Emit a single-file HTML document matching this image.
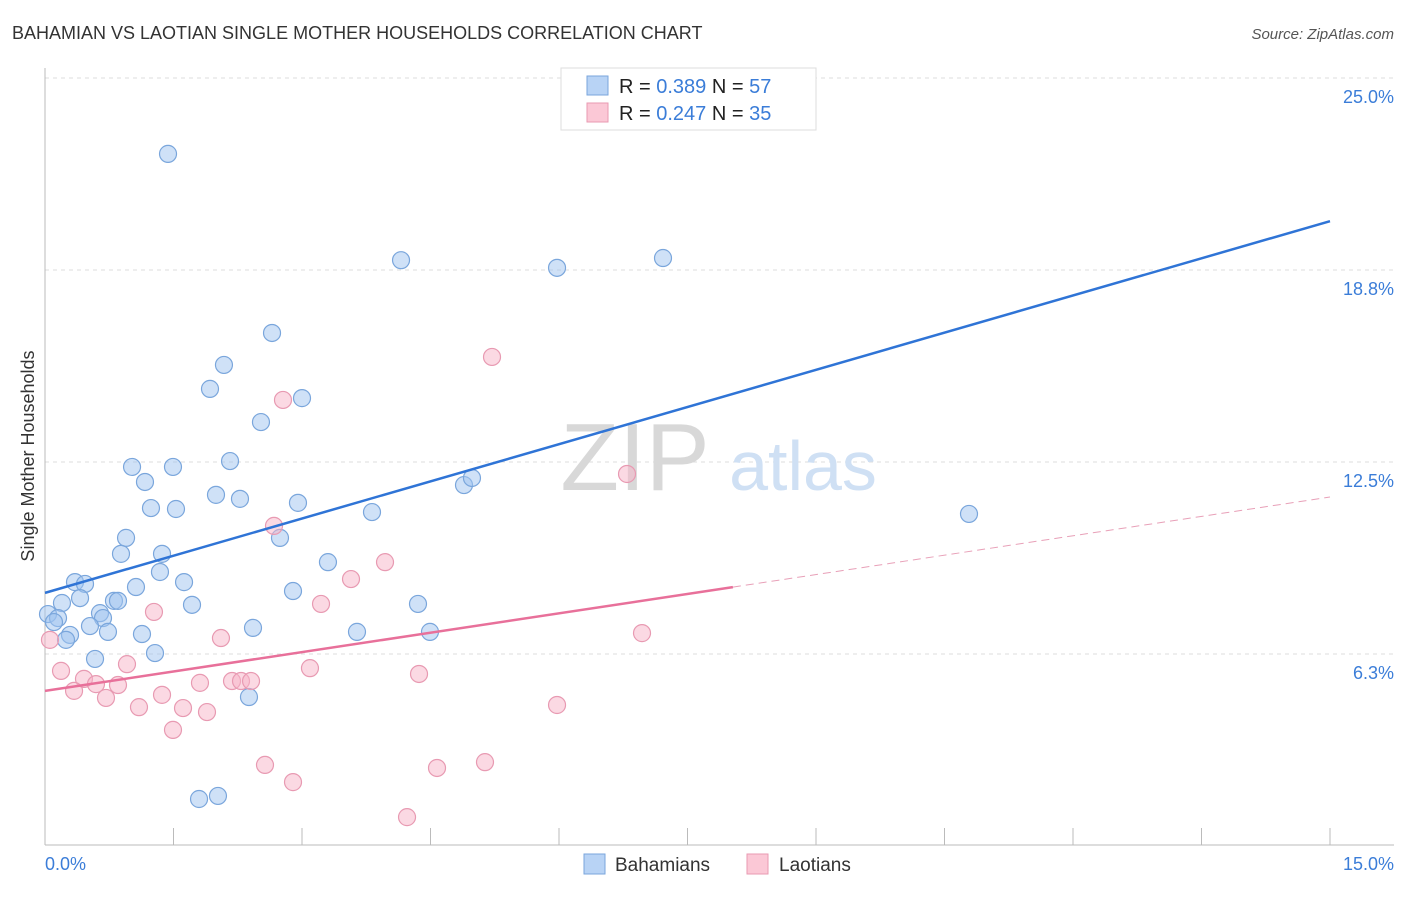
<!DOCTYPE html>
<html><head><meta charset="utf-8"><style>
body{margin:0;background:#fff;font-family:"Liberation Sans",sans-serif;}
svg text{font-family:"Liberation Sans",sans-serif;}
</style></head><body>
<svg id="chart" width="1406" height="892" xmlns="http://www.w3.org/2000/svg">
<text x="12" y="39" font-size="18" fill="#333">BAHAMIAN VS LAOTIAN SINGLE MOTHER HOUSEHOLDS CORRELATION CHART</text>
<text x="1394" y="39" font-size="15" fill="#555" text-anchor="end" font-style="italic">Source: ZipAtlas.com</text>
<g id="grid"></g>
<g>
<text x="635" y="490" font-size="96" font-family="Liberation Serif" fill="#d8d8d8" text-anchor="middle">ZIP</text>
<text x="803" y="490" font-size="70" fill="#cfe0f4" text-anchor="middle">atlas</text>
</g>
<line x1="45" y1="68" x2="45" y2="845" stroke="#bbb"/>
<line x1="45" y1="845" x2="1394" y2="845" stroke="#bbb"/>
<g id="ticks"></g>
<g id="ylabels"></g>
<text x="45" y="870" font-size="18" fill="#3b7dd8">0.0%</text>
<text x="1394" y="870" font-size="18" fill="#3b7dd8" text-anchor="end">15.0%</text>
<text x="34" y="456" font-size="18" fill="#333" text-anchor="middle" transform="rotate(-90 34 456)">Single Mother Households</text>
<g id="pts"></g>
<g id="lines"></g>
<g>
<rect x="561" y="68" width="255" height="62" fill="#fff" stroke="#ddd"/>
<rect x="587" y="76" width="21" height="19" fill="#b8d3f5" stroke="#7aa6dc"/>
<rect x="587" y="103" width="21" height="19" fill="#fbc8d6" stroke="#e89ab2"/>
<text x="619" y="93" font-size="20" fill="#222">R = <tspan fill="#3b7dd8">0.389</tspan>   N = <tspan fill="#3b7dd8">57</tspan></text>
<text x="619" y="120" font-size="20" fill="#222">R = <tspan fill="#3b7dd8">0.247</tspan>   N = <tspan fill="#3b7dd8">35</tspan></text>
</g>
<g>
<rect x="584" y="854" width="21" height="20" fill="#b8d3f5" stroke="#7aa6dc"/>
<text x="615" y="871" font-size="19" fill="#333">Bahamians</text>
<rect x="747" y="854" width="21" height="20" fill="#fbc8d6" stroke="#e89ab2"/>
<text x="779" y="871" font-size="19" fill="#333">Laotians</text>
</g>
</svg>
<script>
const yTicks=[6.3,12.5,18.8,25.0];
const yTickVals=[6.25,12.5,18.75,25];
const xTickVals=[0,1.5,3,4.5,6,7.5,9,10.5,12,13.5,15];
const blueX=[1.436,4.156,5.977,7.214,2.650,2.089,1.926,3.000,2.521,1.016,1.494,2.160,1.167,1.237,1.529,1.996,2.276,2.953,3.817,4.891,4.984,10.786,0.946,2.743,0.887,1.366,3.303,1.342,0.350,0.467,1.623,1.062,2.895,0.409,0.198,0.805,0.852,1.716,4.354,0.035,0.152,0.642,0.677,0.105,0.525,0.735,1.132,2.428,3.642,4.494,0.292,0.245,1.284,0.584,2.381,1.798,2.019];
const blueY=[22.53,19.07,18.82,19.14,16.70,15.66,14.88,14.58,13.80,12.34,12.34,12.53,11.85,11.00,10.97,11.43,11.30,11.17,10.87,11.75,11.98,10.81,10.03,10.03,9.51,9.51,9.24,8.92,8.59,8.53,8.59,8.43,8.30,8.07,7.91,7.98,7.98,7.85,7.88,7.55,7.42,7.58,7.42,7.29,7.16,6.97,6.90,7.10,6.97,6.97,6.87,6.71,6.28,6.09,4.85,1.53,1.63];
const pinkX=[5.218,2.778,6.794,2.673,3.969,3.572,3.222,1.272,6.969,2.054,0.058,0.957,0.187,3.093,4.366,0.455,0.595,0.852,1.809,2.183,2.288,2.405,0.339,1.366,0.712,1.097,1.611,1.891,5.977,1.494,2.568,4.576,5.136,2.895,4.226];
const pinkY=[15.92,14.52,12.11,10.42,9.24,8.69,7.88,7.62,6.93,6.77,6.71,5.92,5.70,5.79,5.60,5.44,5.27,5.24,5.31,5.37,5.37,5.37,5.05,4.92,4.82,4.52,4.49,4.36,4.59,3.78,2.64,2.54,2.73,2.08,0.94];
const blueLine=[8.24,20.34];
const pinkLine=[5.05,11.36];
const pinkSolidEnd=8.03;
const NS='http://www.w3.org/2000/svg';
const sx=v=>45+v/15*1285;
const sy=v=>654-(v-6.25)*30.72;
function mk(tag,attrs,parent){const e=document.createElementNS(NS,tag);for(const k in attrs)e.setAttribute(k,attrs[k]);document.getElementById(parent).appendChild(e);return e;}
yTickVals.forEach((v,i)=>{
 const g=mk('line',{x1:45,x2:1394,y1:sy(v),y2:sy(v),stroke:'#ddd','stroke-dasharray':'4,4'},'grid');
 
 
 const t=mk('text',{x:1394,y:sy(v)+25,'font-size':18,fill:'#3b7dd8','text-anchor':'end'},'ylabels');
 t.textContent=yTicks[i].toFixed(1)+'%';
 
 
});
xTickVals.forEach(v=>{
 const l=mk('line',{x1:sx(v),x2:sx(v),y1:828,y2:845,stroke:'#bbb'},'ticks');
 
 
});
function pts(X,Y,fill,stroke,name){X.forEach((x,i)=>{
 const c=mk('circle',{cx:sx(x),cy:sy(Y[i]),r:8.5,fill:fill,stroke:stroke,'stroke-width':1.2},'pts');
 
 
});}
pts(blueX,blueY,'rgba(160,196,240,0.5)','#7aa6dc','bahamian-point');
pts(pinkX,pinkY,'rgba(248,180,200,0.5)','#e89ab2','laotian-point');
const bl=mk('line',{x1:sx(0),y1:sy(blueLine[0]),x2:sx(15),y2:sy(blueLine[1]),stroke:'#2f74d6','stroke-width':2.5},'lines');


const pEnd=pinkLine[0]+(pinkLine[1]-pinkLine[0])*pinkSolidEnd/15;
const pl=mk('line',{x1:sx(0),y1:sy(pinkLine[0]),x2:sx(pinkSolidEnd),y2:sy(pEnd),stroke:'#e8709a','stroke-width':2.5},'lines');


const pd=mk('line',{x1:sx(pinkSolidEnd),y1:sy(pEnd),x2:sx(15),y2:sy(pinkLine[1]),stroke:'#e8a0b8','stroke-width':1,'stroke-dasharray':'8,5'},'lines');


</script>
</body></html>
